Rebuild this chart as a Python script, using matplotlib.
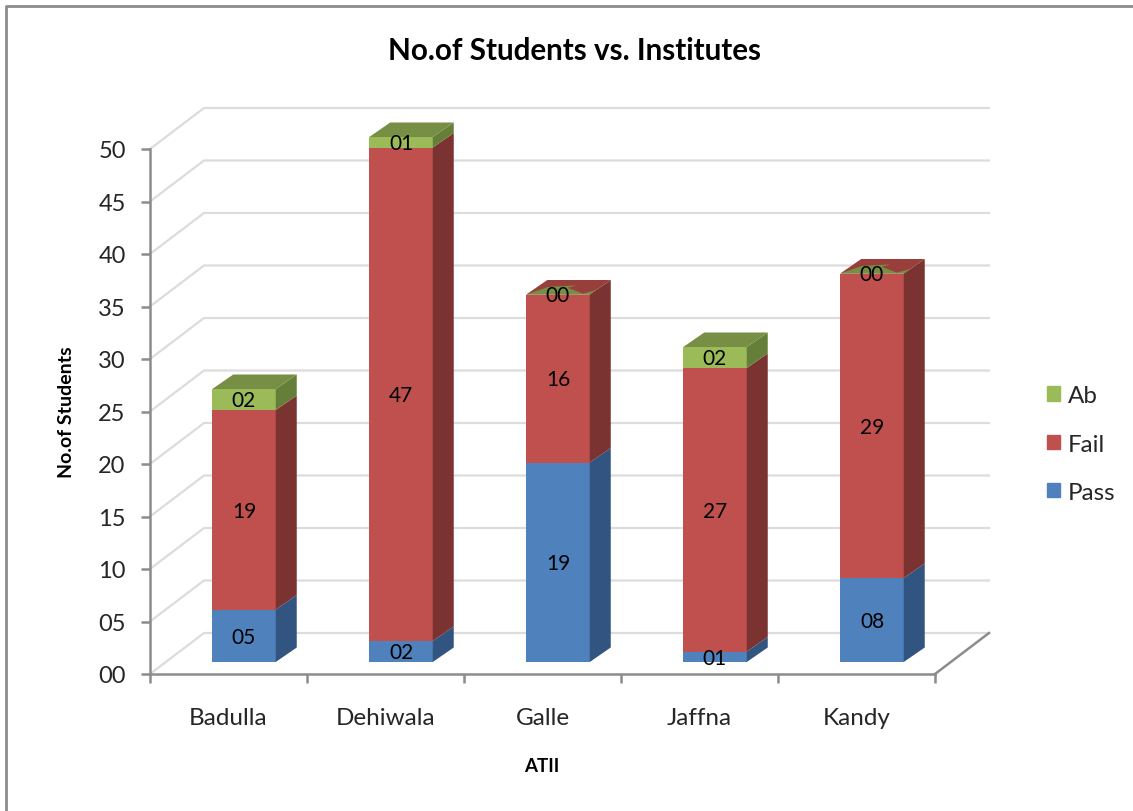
import numpy as np
import matplotlib
matplotlib.use('Agg')
import matplotlib.pyplot as plt
from matplotlib.lines import Line2D
from matplotlib.patches import Patch

plt.rcParams['font.family'] = ['Lato', 'DejaVu Sans']

# values
institutes = ['Badulla', 'Dehiwala', 'Galle', 'Jaffna', 'Kandy']
passed = [5, 2, 19, 1, 8]
failed = [19, 47, 16, 27, 29]
absent = [2, 1, 0, 2, 0]
y_ticks = list(range(0, 55, 5))

W, H = 1133, 812
BLUE, RED, GREEN = '#4F81BD', '#C0504D', '#9BBB59'
BLUE_SIDE, RED_SIDE, GREEN_SIDE = '#325480', '#7B3331', '#667F38'
RED_TOP, GREEN_TOP = '#983F3C', '#778F45'
GRID = '#DCDCDC'
AXIS = '#8C8C8C'

fig = plt.figure(figsize=(W / 100, H / 100), dpi=100)

# axes run from the front floor corner to the back wall corner (pixels)
left, right, bottom, top = 150, 990, 675, 109
ax = fig.add_axes([left / W, 1 - bottom / H, (right - left) / W, (bottom - top) / H])

# one category is 157 px, one student is 10.5 px
cat_px, unit_px = 157, 10.5
wall_dx, wall_dy = 54 / cat_px, 41 / unit_px
ax.set_xlim(-0.5, -0.5 + (right - left) / cat_px)
ax.set_ylim(0, (bottom - top) / unit_px)
ax.patch.set_visible(False)

# back wall and side wall gridlines
for v in y_ticks:
    ax.plot([-0.5, -0.5 + wall_dx, 4.5 + wall_dx], [v, v + wall_dy, v + wall_dy],
            color=GRID, lw=1.6, zorder=1, clip_on=False, solid_joinstyle='round')
ax.plot([4.5, 4.5 + wall_dx], [0, wall_dy], color=AXIS, lw=1.8, zorder=1.5, clip_on=False)

# bar placement inside the depth of the floor
bar_width = 63.5 / cat_px
shift_x, shift_y = 15.5 / cat_px, 12 / unit_px
depth_x, depth_y = 21 / cat_px, 14.5 / unit_px

x = np.arange(len(institutes)) + shift_x
passed = np.array(passed)
failed = np.array(failed)
absent = np.array(absent)
base = shift_y

segments = [(passed, BLUE, BLUE_SIDE), (failed, RED, RED_SIDE), (absent, GREEN, GREEN_SIDE)]
sliver = [(0, 0), (.17, .52), (.58, .625), (.5, .46), (.87, .06), (1, .31), (1, 0)]

for i, xc in enumerate(x):
    x0, x1 = xc - bar_width / 2, xc + bar_width / 2
    y0 = base
    for vals, col, side in segments:
        v = vals[i]
        if v == 0:
            continue
        ax.bar(xc, v, bar_width, bottom=y0, color=col, edgecolor='none', zorder=3)
        ax.fill([x1, x1 + depth_x, x1 + depth_x, x1],
                [y0, y0 + depth_y, y0 + v + depth_y, y0 + v],
                color=side, lw=0, zorder=3)
        y0 += v
    top_col = GREEN_TOP if absent[i] > 0 else RED_TOP
    ax.fill([x0, x1, x1 + depth_x, x0 + depth_x],
            [y0, y0, y0 + depth_y, y0 + depth_y], color=top_col, lw=0, zorder=3)
    if absent[i] == 0:
        ax.fill([x0 + u * bar_width + w * depth_x for u, w in sliver],
                [y0 + w * depth_y for u, w in sliver], color=GREEN_TOP, lw=0, zorder=3.1)

    # data labels, centred on each front face
    y0 = base
    for vals, col, side in segments:
        v = vals[i]
        ax.annotate(f'{v:02d}', (xc, y0 + v / 2), xytext=(0, -0.7), textcoords='offset points',
                    ha='center', va='center', fontsize=15, color='black', zorder=5)
        y0 += v

# axes lines and ticks
for s in ['top', 'right']:
    ax.spines[s].set_visible(False)
for s in ['left', 'bottom']:
    ax.spines[s].set_color(AXIS)
    ax.spines[s].set_linewidth(1.8)
ax.spines['left'].set_bounds(0, 50)
ax.spines['bottom'].set_bounds(-0.5, 4.5)

ax.set_yticks(y_ticks)
ax.set_yticklabels([f'{v:02d}' for v in y_ticks])
ax.tick_params(axis='y', length=6.5, width=1.8, color=AXIS, labelsize=17,
               labelcolor='#262626', pad=11)

ax.set_xticks(range(len(institutes)))
ax.set_xticklabels(institutes)
ax.set_xticks(np.arange(-0.5, 5), minor=True)
ax.tick_params(axis='x', which='major', length=0, labelsize=17.5, labelcolor='#262626', pad=24)
ax.tick_params(axis='x', which='minor', length=6.5, width=1.8, color=AXIS)

fig.text(574 / W, 1 - 51 / H, 'No.of Students vs. Institutes', ha='center', va='center',
         fontsize=21.3, fontweight='bold', color='black')
fig.text(66 / W, 1 - 412 / H, 'No.of Students', rotation=90, ha='center', va='center',
         fontsize=14, fontweight='bold', color='black')
fig.text(542 / W, 1 - 767 / H, 'ATII', ha='center', va='center',
         fontsize=13.5, fontweight='bold', color='black')

handles = [Patch(color=GREEN, label='Ab'), Patch(color=RED, label='Fail'), Patch(color=BLUE, label='Pass')]
fig.legend(handles=handles, loc='center left', bbox_to_anchor=(1047 / W, 1 - 445 / H),
           frameon=False, fontsize=17.4, labelcolor='#262626', handlelength=0.54, handleheight=0.54,
           handletextpad=0.33, labelspacing=1.13, borderpad=0, borderaxespad=0)

# chart frame: only the top and left edges are inside the picture
fig.add_artist(Line2D([6 / W, 6 / W, 1], [0, 1 - 7 / H, 1 - 7 / H], color=AXIS, lw=2,
                      transform=fig.transFigure))

fig.savefig('out.png', dpi=100)
